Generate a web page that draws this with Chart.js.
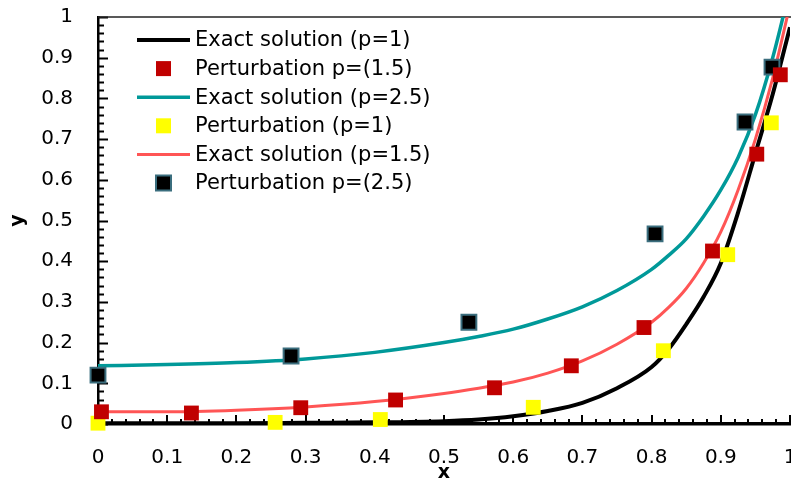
<!DOCTYPE html>
<html>
<head>
<meta charset="utf-8">
<script src="https://cdn.jsdelivr.net/npm/chart.js@4/dist/chart.umd.min.js"></script>
<style>
  html, body { margin: 0; padding: 0; background: #fff; }
  #wrap { width: 791px; height: 482px; }
</style>
</head>
<body>
<div id="wrap"><canvas id="chart" width="791" height="482"></canvas></div>
<script>
// tick values / labels
const xTickValues = [0, 0.1, 0.2, 0.3, 0.4, 0.5, 0.6, 0.7, 0.8, 0.9, 1];
const xTickLabels = ['0', '0.1', '0.2', '0.3', '0.4', '0.5', '0.6', '0.7', '0.8', '0.9', '1'];
const yTickValues = [0, 0.1, 0.2, 0.3, 0.4, 0.5, 0.6, 0.7, 0.8, 0.9, 1];
const yTickLabels = ['0', '0.1', '0.2', '0.3', '0.4', '0.5', '0.6', '0.7', '0.8', '0.9', '1'];

// exact solution curves
const exactX = [0, 0.1, 0.2, 0.3, 0.4, 0.5, 0.55, 0.6, 0.65, 0.7, 0.75, 0.8, 0.825, 0.85, 0.875, 0.9, 0.925, 0.95, 0.975, 1];
const exactP1 = [0.002, 0.002, 0.002, 0.003, 0.004, 0.007, 0.011, 0.019, 0.032, 0.052, 0.088, 0.14, 0.185, 0.245, 0.312, 0.395, 0.52, 0.665, 0.81, 0.975];
const exactP15 = [0.03, 0.03, 0.034, 0.042, 0.055, 0.075, 0.088, 0.103, 0.125, 0.155, 0.196, 0.25, 0.287, 0.333, 0.395, 0.472, 0.575, 0.7, 0.85, 1.03];
const exactP25 = [0.143, 0.146, 0.151, 0.16, 0.176, 0.2, 0.215, 0.233, 0.258, 0.288, 0.328, 0.38, 0.415, 0.455, 0.51, 0.575, 0.655, 0.76, 0.9, 1.07];

// perturbation points
const pertP1X = [0, 0.256, 0.408, 0.629, 0.817, 0.91, 0.973];
const pertP1Y = [0.002, 0.004, 0.011, 0.041, 0.18, 0.416, 0.74];
const pertP15X = [0.005, 0.135, 0.293, 0.43, 0.573, 0.684, 0.789, 0.888, 0.952, 0.986];
const pertP15Y = [0.03, 0.027, 0.04, 0.059, 0.089, 0.143, 0.237, 0.425, 0.663, 0.858];
const pertP25X = [0, 0.279, 0.536, 0.805, 0.935, 0.974];
const pertP25Y = [0.12, 0.167, 0.25, 0.467, 0.742, 0.877];

function pts(xs, ys) {
    return xs.map(function(x, i) { return { x: x, y: ys[i] }; });
}

const FONT = "'DejaVu Sans', sans-serif";

function lineSet(label, data, color, width) {
    return {
        label: label, data: data, showLine: true, borderColor: color, backgroundColor: color,
        borderWidth: width, pointRadius: 0, pointHoverRadius: 0,
        cubicInterpolationMode: 'monotone', order: 2, kind: 'line'
    };
}
function markSet(label, data, fill, border) {
    return {
        label: label, data: data, showLine: false, pointStyle: 'rect',
        pointRadius: 10.5, pointHoverRadius: 10.5, backgroundColor: fill,
        borderColor: border || fill, borderWidth: border ? 2 : 0,
        order: 1, clip: false, kind: 'mark'
    };
}

// axis ticks pointing into the plot + top frame line
const innerTicks = {
    id: 'innerTicks',
    beforeDatasetsDraw(chart) {
        const ctx = chart.ctx, a = chart.chartArea;
        const xs = chart.scales.x, ys = chart.scales.y;
        ctx.save();
        ctx.strokeStyle = '#000';
        ctx.lineWidth = 2;
        for (let i = 0; i <= 50; i++) {
            const major = i % 5 === 0;
            const py = Math.round(ys.getPixelForValue(i / 50)) + 0.5;
            ctx.beginPath();
            ctx.moveTo(a.left, py);
            ctx.lineTo(a.left + (major ? 10 : 6), py);
            ctx.stroke();
            const px = Math.round(xs.getPixelForValue(i / 50));
            ctx.beginPath();
            ctx.moveTo(px, a.bottom);
            ctx.lineTo(px, a.bottom - (major ? 9 : 5));
            ctx.stroke();
        }
        ctx.strokeStyle = '#222';
        ctx.lineWidth = 1.5;
        ctx.beginPath();
        ctx.moveTo(a.left, a.top);
        ctx.lineTo(a.right + 2, a.top);
        ctx.stroke();
        ctx.restore();
    }
};

// legend drawn inside the plot, Excel style
const insideLegend = {
    id: 'insideLegend',
    afterDatasetsDraw(chart) {
        const ctx = chart.ctx;
        ctx.save();
        ctx.font = '21px ' + FONT;
        ctx.textBaseline = 'middle';
        ctx.fillStyle = '#000';
        chart.data.datasets.forEach(function(ds, i) {
            const y = 40 + i * 28.6;
            if (ds.kind === 'line') {
                ctx.strokeStyle = ds.borderColor;
                ctx.lineWidth = ds.borderWidth;
                ctx.beginPath();
                ctx.moveTo(137, y);
                ctx.lineTo(190, y);
                ctx.stroke();
            } else {
                ctx.fillStyle = ds.backgroundColor;
                ctx.fillRect(156, y - 7.5, 15, 15);
                if (ds.borderWidth) {
                    ctx.strokeStyle = ds.borderColor;
                    ctx.lineWidth = 2;
                    ctx.strokeRect(156, y - 7.5, 15, 15);
                }
            }
            ctx.fillStyle = '#000';
            ctx.fillText(ds.label, 195, y + 1);
        });
        ctx.restore();
    }
};

const ctx = document.getElementById('chart').getContext('2d');
new Chart(ctx, {
    type: 'scatter',
    data: {
        datasets: [
            lineSet('Exact solution (p=1)', pts(exactX, exactP1), '#000000', 4),
            markSet('Perturbation p=(1.5)', pts(pertP15X, pertP15Y), '#c00000'),
            lineSet('Exact solution (p=2.5)', pts(exactX, exactP25), '#009999', 3.5),
            markSet('Perturbation (p=1)', pts(pertP1X, pertP1Y), '#ffff00'),
            lineSet('Exact solution (p=1.5)', pts(exactX, exactP15), '#ff5555', 3),
            markSet('Perturbation p=(2.5)', pts(pertP25X, pertP25Y), '#000000', '#3b6e7e')
        ]
    },
    options: {
        responsive: false,
        animation: false,
        events: [],
        layout: { autoPadding: false, padding: { top: 17, right: 1, left: 0, bottom: 0 } },
        plugins: { legend: { display: false }, tooltip: { enabled: false } },
        scales: {
            x: {
                type: 'linear', min: 0, max: 1,
                afterBuildTicks: function(s) { s.ticks = xTickValues.map(function(v) { return { value: v }; }); },
                afterFit: function(s) { s.height = 58; s.paddingLeft = 0; s.paddingRight = 0; },
                grid: { drawOnChartArea: false, drawTicks: false },
                border: { color: '#000', width: 3.5 },
                ticks: {
                    padding: 22, color: '#000', maxRotation: 0, autoSkip: false,
                    font: { family: FONT, size: 20 },
                    callback: function(v, i) { return xTickLabels[i]; }
                },
                title: {
                    display: true, text: 'x', color: '#000',
                    font: { family: FONT, size: 19, weight: 'bold' }, padding: { top: 0, bottom: -2 }
                }
            },
            y: {
                type: 'linear', min: 0, max: 1,
                afterBuildTicks: function(s) { s.ticks = yTickValues.map(function(v) { return { value: v }; }); },
                afterFit: function(s) { s.width = 98; s.paddingTop = 0; s.paddingBottom = 0; },
                grid: { drawOnChartArea: false, drawTicks: false },
                border: { color: '#000', width: 2.5 },
                ticks: {
                    padding: 25, color: '#000', autoSkip: false,
                    font: { family: FONT, size: 20 },
                    callback: function(v, i) { return yTickLabels[i]; }
                },
                title: {
                    display: true, text: 'y', color: '#000',
                    font: { family: FONT, size: 19, weight: 'bold' }, padding: { top: 7, bottom: 0 }
                }
            }
        }
    },
    plugins: [innerTicks, insideLegend]
});
</script>
</body>
</html>
